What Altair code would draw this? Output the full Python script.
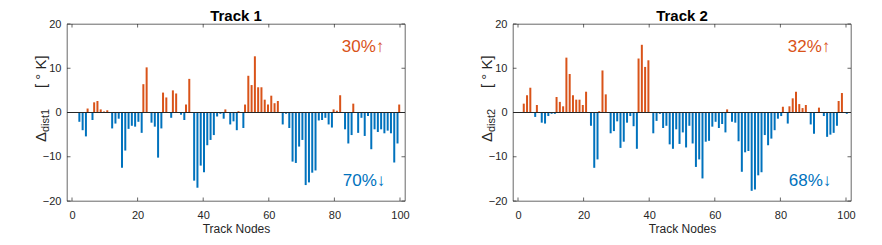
import altair as alt
import pandas as pd

# ---------------- data ----------------
nodes = list(range(1, 101))

track1 = [
    -0.1, -2.1, -4.0, -5.4, 0.9, -1.7, 2.3, 2.6, 0.7, 0.2,
    0.5, -3.6, -2.5, -1.4, -12.5, -8.6, -3.7, -3.0, -3.2, -2.1,
    -4.6, 6.4, 10.2, -2.3, -3.2, -10.2, -3.6, 4.5, 3.4, -1.2,
    5.0, 4.3, -0.5, -1.7, 1.8, 7.6, -15.4, -17.0, -12.0, -13.5,
    -7.4, -6.2, -5.1, -0.9, -0.3, -1.4, 0.7, -2.7, -2.0, -4.0,
    0.3, -3.5, 1.8, 8.3, 6.2, 12.7, 5.7, 5.7, 2.9, 1.8,
    3.8, 2.1, 2.6, -2.7, -0.3, -3.5, -11.1, -11.4, -7.7, -6.2,
    -16.4, -15.8, -13.6, -13.1, -1.8, -1.7, -1.2, -2.7, -3.4, 0.7,
    0.4, 3.9, -3.8, -7.0, -5.1, 2.0, -4.6, -1.2, -5.3, -0.8,
    -8.3, -3.8, -4.4, -3.8, -4.7, -4.1, -4.7, -11.3, -7.0, 1.8,
]

track2 = [
    -0.1, 2.0, 3.9, 5.6, -1.0, 1.7, -2.3, -2.5, -0.8, -0.3,
    -0.3, 3.5, 2.4, 1.4, 12.4, 8.7, 3.9, 2.9, 2.9, 1.7,
    4.7, -3.0, -12.5, -10.6, 0.3, 9.5, 4.1, -4.7, -4.2, -2.0,
    -8.0, -6.6, -2.3, -0.8, -3.1, -8.2, 12.2, 15.3, 10.3, 11.8,
    -4.7, -1.9, -0.3, -3.5, -3.0, -7.2, -8.2, -3.8, -7.1, -4.5,
    -7.9, -3.0, -7.0, -12.3, -10.6, -14.9, -6.6, -6.4, -3.2, -2.1,
    -3.5, -2.6, -4.5, 0.7, -2.1, -2.3, -6.5, -13.4, -9.0, -8.7,
    -17.7, -17.4, -14.2, -13.5, -5.1, -7.4, -5.9, -4.0, -1.4, -0.8,
    1.3, -2.5, 1.4, 3.2, 4.7, 1.9, 1.0, 1.7, -2.7, -4.8,
    -0.1, 1.1, -0.8, -5.5, -5.0, -4.6, -3.0, 2.6, 4.4, -0.3,
]

titles = ["Track 1", "Track 2"]
subscripts = ["dist1", "dist2"]
up_labels = ["30%↑", "32%↑"]
down_labels = ["70%↓", "68%↓"]
x_ticks = [0, 20, 40, 60, 80, 100]
y_ticks = [-20, -10, 0, 10, 20]

# ---------------- style ----------------
W, H = 338, 177
BLUE = "#0072BD"
ORANGE = "#D95319"
AX = "#262626"
FONT = "Liberation Sans"
TICK = 3.5

XS = alt.Scale(domain=[0, 100], nice=False, zero=False)
YS = alt.Scale(domain=[-20, 20], nice=False)
XAXIS = alt.Axis(values=x_ticks, title="Track Nodes", ticks=False,
                 domain=False, grid=False, labelFontSize=11,
                 titleFontSize=12, labelPadding=8, titlePadding=3,
                 titleFontWeight="normal", labelColor=AX,
                 titleColor=AX, labelFont=FONT, titleFont=FONT,
                 labelFlush=False)
YAXIS = alt.Axis(values=y_ticks, title=None, ticks=False,
                 domain=False, grid=False, labelFontSize=11,
                 labelPadding=6, labelColor=AX, labelFont=FONT)


def panel(vals, title, sub, up, down):
    df = pd.DataFrame({"node": nodes, "value": vals})

    x = alt.X("node:Q", scale=XS, axis=XAXIS)
    y = alt.Y("value:Q", scale=YS, axis=YAXIS)

    base = alt.Chart(df)
    pos = base.transform_filter("datum.value > 0").mark_bar(
        size=2, color=ORANGE, xOffset=-0.8).encode(x=x, y=y)
    neg = base.transform_filter("datum.value < 0").mark_bar(
        size=2, color=BLUE, xOffset=0.8).encode(x=x, y=y)

    zero = alt.Chart(pd.DataFrame({"z": [0]})).mark_rule(
        color=AX, strokeWidth=1).encode(y=alt.Y("z:Q", scale=YS, axis=YAXIS))

    xt = pd.DataFrame({"t": x_ticks})
    yt = pd.DataFrame({"t": y_ticks})
    xb = alt.Chart(xt).mark_rule(color=AX, strokeWidth=0.7).encode(
        x=alt.X("t:Q", scale=XS, axis=XAXIS), y=alt.value(H), y2=alt.value(H - TICK))
    xtop = alt.Chart(xt).mark_rule(color=AX, strokeWidth=0.7).encode(
        x=alt.X("t:Q", scale=XS, axis=XAXIS), y=alt.value(0), y2=alt.value(TICK))
    yl = alt.Chart(yt).mark_rule(color=AX, strokeWidth=0.7).encode(
        y=alt.Y("t:Q", scale=YS, axis=YAXIS), x=alt.value(0), x2=alt.value(TICK))
    yr = alt.Chart(yt).mark_rule(color=AX, strokeWidth=0.7).encode(
        y=alt.Y("t:Q", scale=YS, axis=YAXIS), x=alt.value(W), x2=alt.value(W - TICK))

    up_t = alt.Chart(pd.DataFrame({"s": [up]})).mark_text(
        color=ORANGE, fontSize=17, font=FONT).encode(
        text="s:N", x=alt.value(296), y=alt.value(23))
    dn_t = alt.Chart(pd.DataFrame({"s": [down]})).mark_text(
        color=BLUE, fontSize=17, font=FONT).encode(
        text="s:N", x=alt.value(297), y=alt.value(157))

    def lab(txt, size, xx, yy):
        return alt.Chart(pd.DataFrame({"s": [txt]})).mark_text(
            color=AX, fontSize=size, font=FONT, angle=270, align="left",
            baseline="middle").encode(text="s:N", x=alt.value(xx), y=alt.value(yy))

    ylab = lab("Δ", 15, -26, 118) + lab(sub, 11, -21, 108) + lab("[ ° K]", 15, -26, 64)

    return alt.layer(pos, neg, zero, xb, xtop, yl, yr, up_t, dn_t, ylab).properties(
        width=W, height=H,
        title=alt.TitleParams(title, fontSize=15, fontWeight="bold", font=FONT,
                              color="black", offset=-6, frame="group"))


p1 = panel(track1, titles[0], subscripts[0], up_labels[0], down_labels[0])
p2 = panel(track2, titles[1], subscripts[1], up_labels[1], down_labels[1])

chart = alt.hconcat(p1, p2, spacing=108, bounds="flush").properties(
    padding={"left": 25, "top": 0, "right": 5, "bottom": 2}
).configure_view(stroke=AX, strokeWidth=0.7)

chart.save("out.html", embed_options={"renderer": "svg", "actions": False})
